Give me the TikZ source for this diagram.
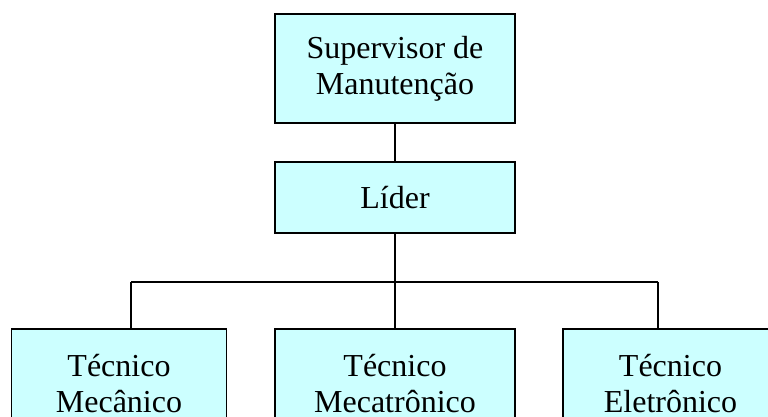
\documentclass[tikz,border=0pt]{standalone}
\usepackage{fontspec}
\setmainfont{Liberation Serif}
\definecolor{boxfill}{HTML}{CCFFFF}
\begin{document}
\begin{tikzpicture}[x=1pt,y=1pt,
  orgbox/.style={draw=black, line width=1.7pt, fill=boxfill, align=center,
    inner sep=0pt, font=\fontsize{32}{36}\selectfont},
  link/.style={draw=black, line width=1.7pt}]
\useasboundingbox (0,0) rectangle (768,417);
\clip (0,0) rectangle (768,417);
\fill[white] (0,0) rectangle (768,417);
\node[orgbox, minimum width=240pt, minimum height=109pt] (sup) at (395,348.5) {Supervisor de\\Manutenção};
\node[orgbox, minimum width=240pt, minimum height=71pt] (lid) at (395,219.5) {Líder};
\node[orgbox, minimum width=215pt, minimum height=109pt] (mec) at (119,33.5) {Técnico\\Mecânico};
\node[orgbox, minimum width=240pt, minimum height=109pt] (mtr) at (395,33.5) {Técnico\\Mecatrônico};
\node[orgbox, minimum width=215pt, minimum height=109pt] (ele) at (670.5,33.5) {Técnico\\Eletrônico};
\coordinate (jl) at (131,135);
\coordinate (jr) at (658,135);
\draw[link] (sup.south) -- (lid.north);
\draw[link] (lid.south) -- (mtr.north);
\draw[link] (jl) -- (jr);
\draw[link] (jl) -- (jl |- mec.north);
\draw[link] (jr) -- (jr |- ele.north);
\end{tikzpicture}
\end{document}
